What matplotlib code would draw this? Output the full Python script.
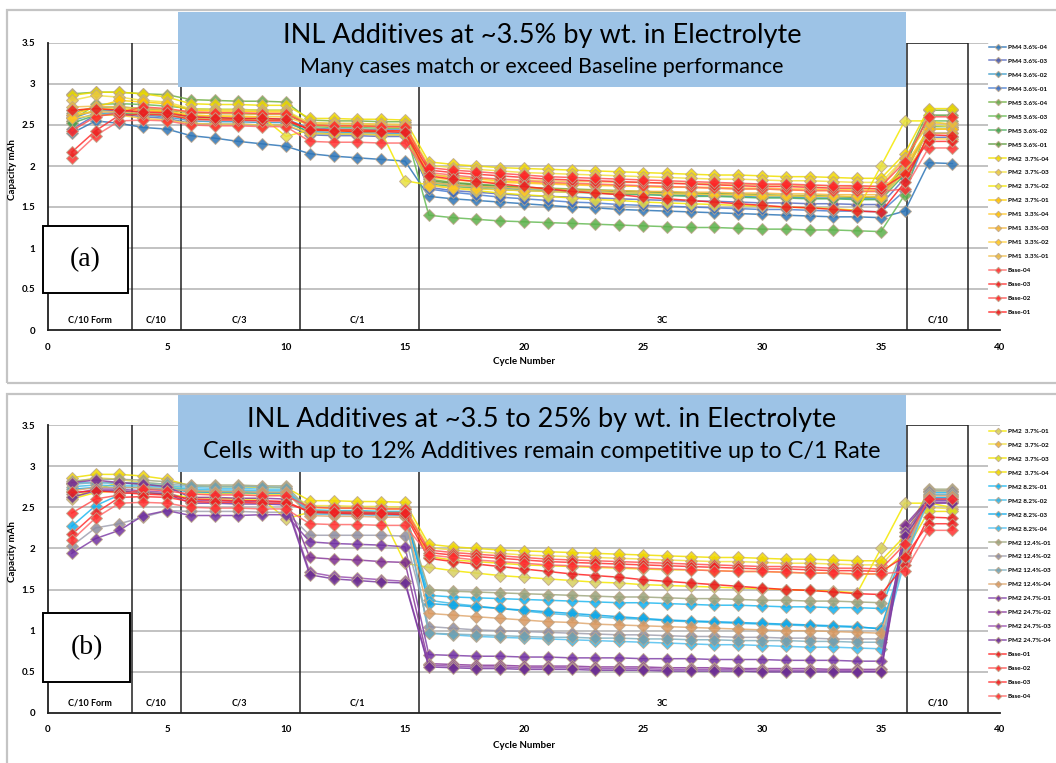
import matplotlib
matplotlib.use('Agg')
import matplotlib.pyplot as plt
from matplotlib.patches import Rectangle

plt.rcParams['font.family'] = ['Lato', 'DejaVu Sans']

cycles = list(range(1, 39))

# ---------------- data (capacity, mAh) ----------------
pm4_04 = [2.40, 2.55, 2.52, 2.47, 2.45, 2.37, 2.34, 2.30, 2.27, 2.24, 2.15, 2.12, 2.10, 2.08, 2.06,
          1.63, 1.60, 1.58, 1.56, 1.54, 1.52, 1.50, 1.49, 1.47, 1.46, 1.45, 1.44, 1.43, 1.42, 1.41, 1.40, 1.39, 1.38, 1.38, 1.37,
          1.45, 2.04, 2.03]
pm4_03 = [2.45, 2.62, 2.63, 2.60, 2.58, 2.52, 2.51, 2.51, 2.50, 2.50, 2.38, 2.37, 2.37, 2.36, 2.36,
          1.74, 1.70, 1.68, 1.66, 1.64, 1.63, 1.62, 1.61, 1.60, 1.59, 1.58, 1.57, 1.57, 1.56, 1.55, 1.55, 1.54, 1.54, 1.53, 1.53,
          1.85, 2.35, 2.35]
pm4_02 = [2.55, 2.64, 2.65, 2.62, 2.60, 2.55, 2.54, 2.54, 2.53, 2.53, 2.42, 2.41, 2.41, 2.40, 2.40,
          1.80, 1.77, 1.75, 1.73, 1.71, 1.70, 1.69, 1.68, 1.67, 1.66, 1.65, 1.64, 1.64, 1.63, 1.62, 1.62, 1.61, 1.61, 1.60, 1.60,
          1.95, 2.45, 2.45]
pm4_01 = [2.58, 2.68, 2.67, 2.65, 2.63, 2.60, 2.59, 2.58, 2.58, 2.57, 2.46, 2.45, 2.45, 2.44, 2.44,
          1.72, 1.68, 1.65, 1.62, 1.60, 1.58, 1.56, 1.55, 1.53, 1.52, 1.51, 1.50, 1.49, 1.48, 1.47, 1.47, 1.46, 1.45, 1.45, 1.44,
          1.70, 2.40, 2.40]
pm5_04 = [2.88, 2.90, 2.90, 2.88, 2.87, 2.81, 2.80, 2.79, 2.79, 2.78, 2.56, 2.55, 2.55, 2.54, 2.54,
          1.84, 1.80, 1.78, 1.76, 1.74, 1.73, 1.72, 1.71, 1.70, 1.69, 1.68, 1.67, 1.66, 1.66, 1.65, 1.64, 1.64, 1.63, 1.62, 1.62,
          2.05, 2.68, 2.68]
pm5_03 = [2.55, 2.75, 2.76, 2.75, 2.73, 2.70, 2.69, 2.69, 2.68, 2.68, 2.48, 2.47, 2.47, 2.46, 2.46,
          1.40, 1.37, 1.35, 1.33, 1.32, 1.31, 1.30, 1.29, 1.28, 1.27, 1.26, 1.25, 1.25, 1.24, 1.23, 1.23, 1.22, 1.22, 1.21, 1.20,
          1.65, 2.55, 2.55]
pm5_02 = [2.52, 2.62, 2.63, 2.64, 2.62, 2.58, 2.57, 2.57, 2.56, 2.56, 2.40, 2.39, 2.39, 2.38, 2.38,
          1.78, 1.75, 1.73, 1.71, 1.70, 1.69, 1.68, 1.67, 1.66, 1.65, 1.64, 1.63, 1.63, 1.62, 1.61, 1.61, 1.60, 1.60, 1.59, 1.59,
          1.90, 2.48, 2.48]
pm5_01 = [2.65, 2.72, 2.72, 2.70, 2.68, 2.65, 2.64, 2.64, 2.63, 2.63, 2.50, 2.49, 2.49, 2.48, 2.48,
          1.82, 1.79, 1.77, 1.75, 1.73, 1.72, 1.71, 1.70, 1.69, 1.68, 1.67, 1.66, 1.66, 1.65, 1.64, 1.64, 1.63, 1.63, 1.62, 1.62,
          2.00, 2.62, 2.62]
pm2a_01 = [2.86, 2.90, 2.90, 2.88, 2.84, 2.76, 2.75, 2.75, 2.74, 2.74, 2.58, 2.58, 2.57, 2.57, 2.56,
           2.05, 2.02, 2.00, 1.98, 1.97, 1.96, 1.95, 1.94, 1.93, 1.92, 1.91, 1.90, 1.89, 1.89, 1.88, 1.87, 1.87, 1.86, 1.85, 1.85,
           2.15, 2.70, 2.70]
pm2a_02 = [2.80, 2.86, 2.84, 2.80, 2.78, 2.70, 2.69, 2.69, 2.68, 2.68, 2.52, 2.52, 2.51, 2.51, 2.50,
           2.01, 1.98, 1.96, 1.94, 1.92, 1.91, 1.90, 1.89, 1.88, 1.87, 1.86, 1.85, 1.84, 1.84, 1.83, 1.82, 1.82, 1.81, 1.80, 1.80,
           2.10, 2.50, 2.48]
pm2a_03 = [2.60, 2.68, 2.70, 2.68, 2.66, 2.62, 2.61, 2.60, 2.60, 2.36, 2.44, 2.43, 2.42, 2.42, 1.82,
           1.77, 1.73, 1.70, 1.67, 1.65, 1.63, 1.61, 1.59, 1.58, 1.56, 1.55, 1.54, 1.53, 1.52, 1.51, 1.50, 1.49, 1.48, 1.46, 2.00,
           2.55, 2.55, 2.50]
pm2a_04 = [2.62, 2.72, 2.80, 2.78, 2.76, 2.68, 2.67, 2.67, 2.66, 2.66, 2.50, 2.49, 2.49, 2.48, 2.48,
           1.90, 1.86, 1.84, 1.82, 1.80, 1.79, 1.78, 1.77, 1.76, 1.75, 1.74, 1.74, 1.73, 1.72, 1.72, 1.71, 1.70, 1.70, 1.69, 1.69,
           1.95, 2.45, 2.45]
pm1_04 = [2.68, 2.70, 2.69, 2.68, 2.67, 2.62, 2.61, 2.61, 2.60, 2.60, 2.50, 2.49, 2.49, 2.48, 2.48,
          1.86, 1.83, 1.81, 1.80, 1.79, 1.78, 1.77, 1.76, 1.76, 1.75, 1.75, 1.74, 1.74, 1.73, 1.73, 1.72, 1.72, 1.71, 1.71, 1.70,
          2.00, 2.45, 2.45]
pm1_03 = [2.62, 2.66, 2.66, 2.64, 2.63, 2.58, 2.57, 2.57, 2.56, 2.56, 2.45, 2.44, 2.44, 2.43, 2.43,
          1.80, 1.77, 1.75, 1.74, 1.73, 1.72, 1.71, 1.70, 1.70, 1.69, 1.69, 1.68, 1.68, 1.67, 1.67, 1.66, 1.66, 1.65, 1.65, 1.65,
          1.95, 2.40, 2.40]
pm1_02 = [2.58, 2.62, 2.62, 2.58, 2.56, 2.52, 2.51, 2.51, 2.50, 2.50, 2.40, 2.39, 2.39, 2.38, 2.38,
          1.76, 1.73, 1.72, 1.71, 1.70, 1.69, 1.68, 1.68, 1.67, 1.67, 1.66, 1.66, 1.65, 1.65, 1.64, 1.64, 1.63, 1.63, 1.63, 1.62,
          1.92, 2.33, 2.33]
pm1_01 = [2.72, 2.73, 2.72, 2.70, 2.69, 2.65, 2.64, 2.64, 2.63, 2.63, 2.53, 2.52, 2.52, 2.51, 2.51,
          1.90, 1.87, 1.85, 1.84, 1.83, 1.82, 1.81, 1.81, 1.80, 1.80, 1.79, 1.79, 1.78, 1.78, 1.77, 1.77, 1.76, 1.76, 1.75, 1.75,
          2.10, 2.52, 2.52]
base_01 = [2.68, 2.70, 2.68, 2.66, 2.65, 2.60, 2.59, 2.58, 2.58, 2.57, 2.44, 2.43, 2.42, 2.42, 2.41,
           1.88, 1.84, 1.81, 1.78, 1.75, 1.72, 1.69, 1.67, 1.65, 1.62, 1.60, 1.58, 1.56, 1.54, 1.52, 1.50, 1.49, 1.47, 1.45, 1.44,
           1.80, 2.38, 2.37]
base_02 = [2.43, 2.60, 2.65, 2.72, 2.70, 2.66, 2.65, 2.65, 2.64, 2.64, 2.50, 2.49, 2.49, 2.48, 2.48,
           1.98, 1.95, 1.93, 1.91, 1.89, 1.87, 1.86, 1.85, 1.84, 1.83, 1.82, 1.81, 1.80, 1.79, 1.78, 1.78, 1.77, 1.76, 1.76, 1.75,
           2.05, 2.60, 2.60]
base_03 = [2.17, 2.43, 2.62, 2.63, 2.62, 2.57, 2.56, 2.56, 2.55, 2.55, 2.45, 2.44, 2.44, 2.43, 2.43,
           1.95, 1.92, 1.90, 1.88, 1.86, 1.84, 1.83, 1.82, 1.81, 1.80, 1.79, 1.78, 1.77, 1.76, 1.75, 1.75, 1.74, 1.73, 1.73, 1.72,
           1.90, 2.30, 2.30]
base_04 = [2.10, 2.37, 2.55, 2.56, 2.55, 2.50, 2.49, 2.49, 2.48, 2.48, 2.30, 2.29, 2.29, 2.28, 2.28,
           1.92, 1.89, 1.86, 1.84, 1.82, 1.80, 1.79, 1.78, 1.77, 1.76, 1.75, 1.74, 1.73, 1.72, 1.72, 1.71, 1.70, 1.70, 1.69, 1.69,
           1.72, 2.22, 2.22]
pm2b_01 = [2.27, 2.52, 2.65, 2.72, 2.72, 2.70, 2.69, 2.69, 2.68, 2.68, 2.47, 2.46, 2.46, 2.45, 2.45,
           1.43, 1.41, 1.40, 1.39, 1.38, 1.37, 1.36, 1.35, 1.34, 1.34, 1.33, 1.32, 1.31, 1.31, 1.30, 1.29, 1.29, 1.28, 1.28, 1.27,
           2.00, 2.68, 2.68]
pm2b_02 = [2.75, 2.77, 2.76, 2.76, 2.74, 2.72, 2.71, 2.71, 2.70, 2.70, 2.46, 2.45, 2.45, 2.44, 2.44,
           1.37, 1.33, 1.30, 1.27, 1.24, 1.21, 1.19, 1.17, 1.15, 1.14, 1.12, 1.11, 1.10, 1.09, 1.08, 1.07, 1.06, 1.05, 1.04, 1.03,
           1.95, 2.65, 2.65]
pm2b_03 = [2.72, 2.74, 2.74, 2.74, 2.72, 2.69, 2.68, 2.68, 2.67, 2.67, 2.44, 2.43, 2.43, 2.42, 2.42,
           1.33, 1.31, 1.29, 1.27, 1.25, 1.23, 1.21, 1.19, 1.17, 1.15, 1.13, 1.12, 1.11, 1.10, 1.09, 1.08, 1.07, 1.06, 1.05, 1.02,
           1.90, 2.62, 2.62]
pm2b_04 = [2.80, 2.80, 2.79, 2.78, 2.76, 2.74, 2.73, 2.73, 2.72, 2.72, 2.42, 2.41, 2.41, 2.40, 2.40,
           0.97, 0.95, 0.93, 0.92, 0.91, 0.90, 0.89, 0.88, 0.87, 0.86, 0.85, 0.84, 0.83, 0.83, 0.82, 0.81, 0.80, 0.80, 0.79, 0.78,
           1.85, 2.60, 2.60]
pm2c_01 = [2.82, 2.84, 2.84, 2.83, 2.81, 2.77, 2.77, 2.77, 2.76, 2.76, 2.46, 2.45, 2.45, 2.44, 2.44,
           1.50, 1.48, 1.47, 1.46, 1.45, 1.44, 1.43, 1.42, 1.41, 1.41, 1.40, 1.39, 1.39, 1.38, 1.37, 1.37, 1.36, 1.36, 1.35, 1.34,
           2.05, 2.72, 2.72]
pm2c_02 = [2.03, 2.25, 2.30, 2.38, 2.46, 2.45, 2.45, 2.45, 2.44, 2.44, 2.16, 2.16, 2.16, 2.16, 2.15,
           1.05, 1.03, 1.01, 1.00, 0.99, 0.98, 0.97, 0.96, 0.95, 0.95, 0.94, 0.93, 0.93, 0.92, 0.92, 0.91, 0.91, 0.90, 0.90, 0.90,
           1.95, 2.70, 2.70]
pm2c_03 = [2.78, 2.80, 2.80, 2.80, 2.78, 2.76, 2.75, 2.75, 2.75, 2.74, 2.43, 2.42, 2.42, 2.41, 2.41,
           0.97, 0.96, 0.95, 0.94, 0.93, 0.92, 0.92, 0.91, 0.91, 0.90, 0.90, 0.89, 0.89, 0.88, 0.88, 0.88, 0.87, 0.87, 0.86, 0.86,
           1.90, 2.66, 2.66]
pm2c_04 = [2.70, 2.74, 2.74, 2.74, 2.72, 2.70, 2.69, 2.69, 2.68, 2.68, 2.40, 2.39, 2.39, 2.38, 2.38,
           1.21, 1.19, 1.17, 1.15, 1.13, 1.11, 1.10, 1.08, 1.07, 1.06, 1.05, 1.04, 1.03, 1.02, 1.01, 1.00, 1.00, 0.99, 0.98, 0.97,
           1.92, 2.64, 2.64]
pm2d_01 = [1.94, 2.12, 2.22, 2.40, 2.46, 2.40, 2.40, 2.40, 2.41, 2.41, 2.08, 2.06, 2.05, 2.04, 2.02,
           0.71, 0.70, 0.69, 0.69, 0.68, 0.68, 0.67, 0.67, 0.67, 0.66, 0.66, 0.66, 0.65, 0.65, 0.65, 0.64, 0.64, 0.64, 0.63, 0.63,
           2.25, 2.58, 2.58]
pm2d_02 = [2.80, 2.83, 2.80, 2.78, 2.75, 2.62, 2.62, 2.61, 2.61, 2.60, 1.89, 1.87, 1.86, 1.84, 1.83,
           0.60, 0.59, 0.58, 0.58, 0.57, 0.57, 0.57, 0.56, 0.56, 0.56, 0.55, 0.55, 0.55, 0.54, 0.54, 0.54, 0.54, 0.53, 0.53, 0.53,
           2.28, 2.60, 2.60]
pm2d_03 = [2.66, 2.72, 2.72, 2.70, 2.68, 2.58, 2.58, 2.57, 2.57, 2.56, 1.71, 1.66, 1.64, 1.62, 1.60,
           0.58, 0.57, 0.56, 0.56, 0.55, 0.55, 0.55, 0.54, 0.54, 0.54, 0.53, 0.53, 0.53, 0.53, 0.52, 0.52, 0.52, 0.52, 0.51, 0.51,
           2.20, 2.56, 2.56]
pm2d_04 = [2.62, 2.70, 2.70, 2.68, 2.66, 2.55, 2.55, 2.54, 2.54, 2.53, 1.68, 1.63, 1.61, 1.59, 1.58,
           0.56, 0.55, 0.54, 0.54, 0.53, 0.53, 0.53, 0.52, 0.52, 0.52, 0.51, 0.51, 0.51, 0.51, 0.50, 0.50, 0.50, 0.50, 0.50, 0.50,
           2.15, 2.55, 2.55]

# (label, values, line colour, marker colour)
series_a = [
    ("PM4 3.6%-04", pm4_04, "#2e75b6", "#2e75b6"),
    ("PM4 3.6%-03", pm4_03, "#5a6cc0", "#4a5aa8"),
    ("PM4 3.6%-02", pm4_02, "#3a9ac8", "#2f86b0"),
    ("PM4 3.6%-01", pm4_01, "#4a7ed0", "#3a6cc0"),
    ("PM5 3.6%-04", pm5_04, "#70b040", "#6aa84f"),
    ("PM5 3.6%-03", pm5_03, "#66bb55", "#5cb04a"),
    ("PM5 3.6%-02", pm5_02, "#4caf60", "#40a050"),
    ("PM5 3.6%-01", pm5_01, "#5a9a3c", "#5a9a3c"),
    ("PM2  3.7%-04", pm2a_01, "#f0e000", "#f0d800"),
    ("PM2  3.7%-03", pm2a_02, "#f2e040", "#e8c840"),
    ("PM2  3.7%-02", pm2a_03, "#f4e800", "#e8e040"),
    ("PM2  3.7%-01", pm2a_04, "#ffd000", "#ffc000"),
    ("PM1  3.3%-04", pm1_04, "#ffc830", "#ffc000"),
    ("PM1  3.3%-03", pm1_03, "#f5b840", "#f0b030"),
    ("PM1  3.3%-02", pm1_02, "#ffd040", "#ffc820"),
    ("PM1  3.3%-01", pm1_01, "#f0c050", "#e8b840"),
    ("Base-04", base_04, "#ff6a6a", "#ff3030"),
    ("Base-03", base_03, "#ff3030", "#ee2020"),
    ("Base-02", base_02, "#ff5050", "#ff2828"),
    ("Base-01", base_01, "#ff2020", "#e82020"),
]

series_b = [
    ("PM2  3.7%-01", pm2a_03, "#f4e800", "#d8d060"),
    ("PM2  3.7%-02", pm2a_02, "#f2e040", "#f0b030"),
    ("PM2  3.7%-03", pm2a_04, "#f0e000", "#d8e020"),
    ("PM2  3.7%-04", pm2a_01, "#f0e000", "#f0d800"),
    ("PM2 8.2%-01", pm2b_01, "#20b8f0", "#10b0f0"),
    ("PM2 8.2%-02", pm2b_02, "#40bce8", "#30b0e0"),
    ("PM2 8.2%-03", pm2b_03, "#10a8e8", "#10a8e8"),
    ("PM2 8.2%-04", pm2b_04, "#50c0f0", "#30b8f0"),
    ("PM2 12.4%-01", pm2c_01, "#a0a880", "#9aa27a"),
    ("PM2 12.4%-02", pm2c_02, "#a0a0b0", "#8c8ca0"),
    ("PM2 12.4%-03", pm2c_03, "#80b0c0", "#70a0b0"),
    ("PM2 12.4%-04", pm2c_04, "#e0a870", "#d89860"),
    ("PM2 24.7%-01", pm2d_01, "#8040a8", "#7030a0"),
    ("PM2 24.7%-02", pm2d_02, "#8a3a9a", "#7b2d8e"),
    ("PM2 24.7%-03", pm2d_03, "#9a50b0", "#8040a0"),
    ("PM2 24.7%-04", pm2d_04, "#7a3aa0", "#6a2c91"),
    ("Base-01", base_01, "#ff2020", "#e82020"),
    ("Base-02", base_02, "#ff5050", "#ff2828"),
    ("Base-03", base_03, "#ff3030", "#ee2020"),
    ("Base-04", base_04, "#ff6a6a", "#ff3030"),
]

titles = [("INL Additives at ~3.5% by wt. in Electrolyte",
           "Many cases match or exceed Baseline performance"),
          ("INL Additives at ~3.5 to 25% by wt. in Electrolyte",
           "Cells with up to 12% Additives remain competitive up to C/1 Rate")]
panel_tags = ["(a)", "(b)"]
phase_labels = ["C/10 Form", "C/10", "C/3", "C/1", "3C", "C/10"]
phase_x = [1.75, 4.55, 8.05, 13.0, 25.8, 37.4]
dividers = [3.55, 5.57, 10.57, 15.57]
final_box = (36.1, 38.65)
ytick_vals = [0, 0.5, 1, 1.5, 2, 2.5, 3, 3.5]
ytick_labels = ["0", "0.5", "1", "1.5", "2", "2.5", "3", "3.5"]
xtick_vals = [0, 5, 10, 15, 20, 25, 30, 35, 40]

W, H = 1056, 763
fig = plt.figure(figsize=(W / 100, H / 100), dpi=100)


def frac_rect(x0, y0, x1, y1):
    return [x0 / W, 1 - y1 / H, (x1 - x0) / W, (y1 - y0) / H]


layout = [
    dict(border=(7, 10, 1070, 383), ax=(48, 43, 1000, 330), blue=(178, 12, 906, 87),
         t1y=36, t2y=67, fs1=19.5, fs2=15.5, tag=(43, 226, 128, 293), leg_top=43, xlab_y=362),
    dict(border=(7, 394, 1070, 775), ax=(48, 425, 1000, 713), blue=(178, 395, 906, 472),
         t1y=419, t2y=452, fs1=19.5, fs2=16.8, tag=(43, 613, 130, 682), leg_top=427, xlab_y=746),
]

for series, lay, (t1, t2), tag in zip([series_a, series_b], layout, titles, panel_tags):
    bx = lay["border"]
    r = frac_rect(*bx)
    fig.add_artist(Rectangle((r[0], r[1]), r[2], r[3], transform=fig.transFigure,
                             fill=False, ec="#c4c4c4", lw=1.6, zorder=0))
    ax = fig.add_axes(frac_rect(*lay["ax"]))
    ax.set_xlim(0, 40)
    ax.set_ylim(0, 3.5)
    for yv in ytick_vals[1:]:
        ax.axhline(yv, color="#bdbdbd", lw=1.3, zorder=0.5)
    for xv in dividers:
        ax.plot([xv, xv], [0, 3.5], color="#202020", lw=1.1, zorder=1)
    ax.plot([final_box[0], final_box[0], final_box[1], final_box[1]], [0, 3.5, 3.5, 0],
            color="#202020", lw=1.1, zorder=1)
    for lab, vals, lc, mc in series:
        ax.plot(cycles, vals, color=lc, lw=1.1, alpha=0.85, marker="D", markersize=6,
                markerfacecolor=mc, markeredgecolor="#bda68a", markeredgewidth=0.7,
                label=lab, zorder=2)
    for s in ["top", "right"]:
        ax.spines[s].set_visible(False)
    for s in ["left", "bottom"]:
        ax.spines[s].set_color("#202020")
        ax.spines[s].set_linewidth(1.3)
    ax.set_yticks(ytick_vals)
    ax.set_yticklabels(ytick_labels, fontsize=7, fontweight="bold")
    ax.set_xticks(xtick_vals)
    ax.set_xticklabels([str(v) for v in xtick_vals], fontsize=7, fontweight="bold")
    ax.tick_params(length=0, pad=9)
    ax.set_ylabel("Capacity mAh", fontsize=7, fontweight="bold")
    ax.yaxis.set_label_coords(-0.033, 0.56)
    for txt, xv in zip(phase_labels, phase_x):
        ax.text(xv, 0.12, txt, ha="center", va="center", fontsize=6.5, fontweight="bold")
    # x label
    fig.text(524 / W, 1 - lay["xlab_y"] / H, "Cycle Number", ha="center", va="center",
             fontsize=7, fontweight="bold")
    # blue title box
    b = frac_rect(*lay["blue"])
    fig.add_artist(Rectangle((b[0], b[1]), b[2], b[3], transform=fig.transFigure,
                             fc="#9dc3e6", ec="none", zorder=3))
    cx = (lay["blue"][0] + lay["blue"][2]) / 2 / W
    fig.text(cx, 1 - lay["t1y"] / H, t1, ha="center", va="center", fontsize=lay["fs1"], zorder=4)
    fig.text(cx, 1 - lay["t2y"] / H, t2, ha="center", va="center", fontsize=lay["fs2"], zorder=4)
    # tag box
    tb = frac_rect(*lay["tag"])
    fig.add_artist(Rectangle((tb[0], tb[1]), tb[2], tb[3], transform=fig.transFigure,
                             fc="white", ec="black", lw=1.4, zorder=3))
    fig.text(tb[0] + tb[2] / 2, tb[1] + tb[3] / 2, tag, ha="center", va="center",
             fontsize=20, family="Liberation Serif", zorder=4)
    # legend
    h, l = ax.get_legend_handles_labels()
    leg = fig.legend(h, l, loc="upper left", bbox_to_anchor=(988 / W, 1 - lay["leg_top"] / H),
                     frameon=True, facecolor="white", edgecolor="none", framealpha=1,
                     prop=dict(size=4.6, weight="bold"), markerscale=0.55,
                     handlelength=2.6, handletextpad=0.3, labelspacing=1.33,
                     borderpad=0.2, borderaxespad=0)
    leg.set_zorder(5)

fig.savefig("out.png", dpi=100)
